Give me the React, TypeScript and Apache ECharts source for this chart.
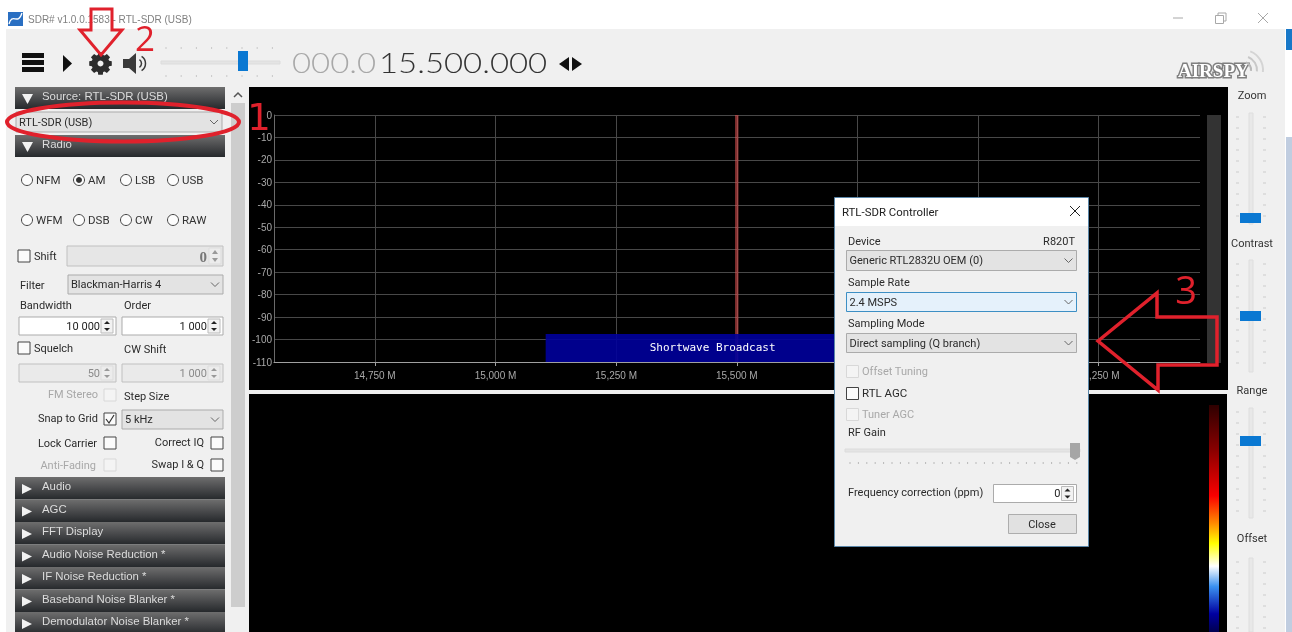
import React, { useEffect, useRef } from "react";
import * as echarts from "echarts";

const yTicks = [0, -10, -20, -30, -40, -50, -60, -70, -80, -90, -100, -110];
const xTicks = [14750, 15000, 15250, 15500, 15750, 16000, 16250];
const xVisibleLabels = [14750, 15000, 15250, 15500, 16250];
const xRange = [14541, 16460];
const tunedBand = [15496.5, 15503.5];
const bandPlanRange = [15104, 15796];
const bandPlanLevel = [-110, -97.5];
const bandPlanName = "Shortwave Broadcast";
const sourcePanels = ["Audio", "AGC", "FFT Display", "Audio Noise Reduction *", "IF Noise Reduction *", "Baseband Noise Blanker *", "Demodulator Noise Blanker *"];
const radioRow1 = ["NFM", "AM", "LSB", "USB"];
const radioRow2 = ["WFM", "DSB", "CW", "RAW"];
const sideSliders = ["Zoom", "Contrast", "Range", "Offset"];

const FONT = "Roboto, 'Liberation Sans', Arial, sans-serif";
const ARIAL = "'Liberation Sans', Arial, sans-serif";
const RED = "#e0212c";
const BLUE = "#0a78d2";
const APP = "#f0f0f0";

function buildGraphics() {
  const g: any[] = [];
  let Z = -10;
  const rect = (x: number, y: number, w: number, h: number, fill: any, stroke?: string, lw = 1) =>
    g.push({ type: "rect", silent: true, z: Z, shape: { x, y, width: w, height: h }, style: { fill, stroke: stroke || null, lineWidth: stroke ? lw : 0 } });
  const text = (x: number, y: number, s: string, o: any = {}) =>
    g.push({
      type: "text", silent: true, z: Z + 1, x, y, scaleX: o.scaleX || 1,
      style: {
        text: s, fill: o.color || "#2b2b2b", font: `${o.weight || "normal"} ${o.size || 11}px ${o.font || FONT}`,
        textAlign: o.align || "left", textVerticalAlign: "middle", textBaseline: "middle",
        stroke: o.stroke || null, lineWidth: o.lw || 0,
      },
    });
  const poly = (pts: number[][], fill: any, stroke?: string, lw = 1) =>
    g.push({ type: "polygon", silent: true, z: Z + 1, shape: { points: pts }, style: { fill: fill || "none", stroke: stroke || null, lineWidth: stroke ? lw : 0, lineJoin: "miter" } });
  const line = (x1: number, y1: number, x2: number, y2: number, stroke: string, lw = 1) =>
    g.push({ type: "line", silent: true, z: Z + 1, shape: { x1, y1, x2, y2 }, style: { stroke, lineWidth: lw } });
  const circle = (cx: number, cy: number, r: number, fill: any, stroke?: string, lw = 1) =>
    g.push({ type: "circle", silent: true, z: Z + 1, shape: { cx, cy, r }, style: { fill, stroke: stroke || null, lineWidth: stroke ? lw : 0 } });
  const arc = (cx: number, cy: number, r: number, a: number, b: number, stroke: string, lw: number) =>
    g.push({ type: "arc", silent: true, z: Z + 1, shape: { cx, cy, r, startAngle: a, endAngle: b, clockwise: true }, style: { stroke, lineWidth: lw, fill: "none" } });
  const chevron = (x: number, y: number, c = "#666") =>
    g.push({ type: "polyline", silent: true, z: Z + 1, shape: { points: [[x - 4, y - 2], [x, y + 2], [x + 4, y - 2]] }, style: { stroke: c, lineWidth: 1, fill: "none" } });
  const combo = (x: number, y: number, w: number, h: number, s: string, fill = "#e3e3e3", border = "#ababab") => {
    rect(x, y, w, h, fill, border);
    text(x + 3, y + h / 2, s);
    chevron(x + w - 8, y + h / 2);
  };
  const check = (x: number, y: number, disabled = false, checked = false) => {
    rect(x, y, 12, 12, disabled ? "#f4f4f4" : "#fbfbfb", disabled ? "#d8d8d8" : "#444");
    if (checked) g.push({ type: "polyline", silent: true, z: Z + 1, shape: { points: [[x + 2, y + 6], [x + 5, y + 10], [x + 10, y + 2]] }, style: { stroke: "#333", lineWidth: 1.2, fill: "none" } });
  };
  const spinner = (x: number, y: number, h: number, disabled = false) => {
    const c = disabled ? "#999" : "#222";
    rect(x, y + 1, 12, h - 2, disabled ? "#ececec" : "#f2f2f2", disabled ? "#ddd" : "#bbb");
    poly([[x + 3, y + h / 2 - 2], [x + 6, y + 3], [x + 9, y + h / 2 - 2]], c);
    poly([[x + 3, y + h / 2 + 2], [x + 6, y + h - 3], [x + 9, y + h / 2 + 2]], c);
  };
  const numeric = (x: number, y: number, w: number, h: number, s: string, disabled = false) => {
    rect(x, y, w, h, disabled ? "#eaeaea" : "#ffffff", disabled ? "#c0c0c0" : "#ababab");
    text(x + w - 16, y + h / 2, s, { align: "right", color: disabled ? "#8a8a8a" : "#222" });
    spinner(x + w - 15, y + 1, h - 2, disabled);
  };
  const headerFill = { type: "linear", x: 0, y: 0, x2: 0, y2: 1, colorStops: [{ offset: 0, color: "#6e6e6e" }, { offset: 0.5, color: "#4a4b4d" }, { offset: 1, color: "#26292c" }] };
  const header = (y: number, h: number, s: string, open: boolean) => {
    rect(15, y, 210, h, headerFill);
    if (open) poly([[22, y + 7], [33, y + 7], [27.5, y + 17]], "#f2f2f2");
    else poly([[22, y + 7], [22, y + 17], [32, y + 12]], "#f2f2f2");
    text(42, y + 9, s, { color: "#dcdcdc", size: 11.4, font: ARIAL });
  };
  const radio = (cx: number, cy: number, s: string, on: boolean) => {
    circle(cx, cy, 5.5, "#fcfcfc", "#444");
    if (on) circle(cx, cy, 3, "#333");
    text(cx + 9, cy, s, { color: "#333", size: 11.5 });
  };
  const vSlider = (cx: number, y1: number, y2: number, thumbY: number) => {
    rect(cx - 2, y1, 4, y2 - y1, "#e8e8e8", "#dedede");
    for (let y = y1 + 4; y < y2; y += 11) {
      line(cx - 15, y, cx - 12, y, "#cccccc");
      line(cx + 12, y, cx + 15, y, "#cccccc");
    }
    rect(cx - 11, thumbY, 21, 10, BLUE);
  };

  // ---- background layer (under the spectrum grid)
  rect(0, 0, 1292, 632, "#ffffff");
  rect(6, 29, 1279, 603, APP);
  rect(1286, 29, 6, 21, "#1878c8");
  rect(1286, 137, 6, 495, "#c0cde0");
  rect(249, 87, 979, 303, "#000000");
  rect(249, 394, 978, 238, "#000000");
  rect(1207, 115, 14, 248, "#333333");

  // ---- foreground layer
  Z = 20;
  // title bar
  rect(8, 12, 15, 14, "#2a6fc2");
  g.push({ type: "bezierCurve", silent: true, z: Z + 1, shape: { x1: 9, y1: 24, x2: 22, y2: 13, cpx1: 12, cpy1: 12, cpx2: 18, cpy2: 26 }, style: { stroke: "#ffffff", lineWidth: 1.3, fill: "none" } });
  text(28, 19, "SDR# v1.0.0.1583 - RTL-SDR (USB)", { color: "#808080", size: 10, font: ARIAL });
  line(1173, 18, 1183, 18, "#a8a8a8");
  rect(1215.5, 15.5, 8, 8, "none", "#a8a8a8");
  g.push({ type: "polyline", silent: true, z: Z + 1, shape: { points: [[1218, 15], [1218, 13], [1226, 13], [1226, 21], [1224, 21]] }, style: { stroke: "#a8a8a8", lineWidth: 1, fill: "none" } });
  line(1258, 13, 1268, 23, "#a8a8a8");
  line(1268, 13, 1258, 23, "#a8a8a8");

  // toolbar
  rect(22, 53, 22, 5, "#111");
  rect(22, 60, 22, 5, "#111");
  rect(22, 67, 22, 5, "#111");
  poly([[63, 55], [63, 72], [72, 63.5]], "#111");
  const gear: number[][] = [];
  for (let i = 0; i < 8; i++) {
    const a = (i * Math.PI) / 4;
    for (const [da, r] of [[-0.3, 9], [-0.2, 11.5], [0.2, 11.5], [0.3, 9]] as number[][]) {
      gear.push([100.5 + r * Math.cos(a + da), 63.5 + r * Math.sin(a + da)]);
    }
  }
  poly(gear, "#2c2c2c");
  circle(100.5, 63.5, 3, APP);
  poly([[123, 59], [129, 59], [136, 53], [136, 74], [129, 68], [123, 68]], "#3a3a3a");
  arc(137, 63.5, 4.5, -1, 1, "#3a3a3a", 1.5);
  arc(137, 63.5, 8.5, -1, 1, "#3a3a3a", 1.5);
  rect(161, 61, 119, 3, "#e4e4e4", "#dcdcdc");
  for (let x = 166; x < 280; x += 15.2) {
    line(x, 47, x, 49, "#c8c8c8");
    line(x, 75, x, 77, "#c8c8c8");
  }
  rect(238, 51, 10, 20, BLUE);
  text(292, 62, "000.0", { size: 27, scaleX: 1.22, color: "#a8a8a8", font: "Lato, 'Open Sans', sans-serif", weight: 300 });
  text(379, 62, "15.500.000", { size: 27, scaleX: 1.22, color: "#333", font: "Lato, 'Open Sans', sans-serif", weight: 300 });
  poly([[569, 57], [569, 71], [559, 64]], "#111");
  poly([[572, 57], [572, 71], [582, 64]], "#111");

  // airspy logo
  text(1178, 70, "AIRSPY", { size: 19, weight: "bold", font: "'Liberation Serif', serif", color: "#ffffff", stroke: "#808080", lw: 3 });
  arc(1243, 70, 8, -1.2, 0.1, "#b8b8b8", 2);
  arc(1243, 70, 14, -1.2, 0.1, "#c8c8c8", 2);
  arc(1243, 70, 20, -1.2, 0.1, "#d4d4d4", 2);

  // left panel
  header(87, 22, "Source: RTL-SDR (USB)", true);
  combo(16, 112, 206, 20, "RTL-SDR (USB)");
  header(135, 22, "Radio", true);
  rect(231, 87, 14, 520, "#cdcdcd");
  rect(231, 87, 14, 16, APP);
  g.push({ type: "polyline", silent: true, z: Z + 1, shape: { points: [[234, 97], [238, 93], [242, 97]] }, style: { stroke: "#555", lineWidth: 1.5, fill: "none" } });

  const radioX = [27, 79, 126, 173];
  radioRow1.forEach((s, i) => radio(radioX[i], 180, s, s === "AM"));
  radioRow2.forEach((s, i) => radio(radioX[i], 220, s, false));

  check(18, 250);
  text(34, 256, "Shift");
  rect(67, 246, 156, 20, "#e6e6e6", "#c0c0c0");
  text(207, 257, "0", { align: "right", size: 15, weight: "bold", font: "'Liberation Serif', serif", color: "#777" });
  spinner(209, 247, 18, true);
  text(20, 285, "Filter");
  combo(68, 275, 155, 19, "Blackman-Harris 4");
  text(20, 305, "Bandwidth");
  text(124, 305, "Order");
  numeric(19, 317, 97, 18, "10 000");
  numeric(122, 317, 101, 18, "1 000");
  check(18, 342);
  text(34, 348, "Squelch");
  text(124, 349, "CW Shift");
  numeric(19, 364, 97, 18, "50", true);
  numeric(122, 364, 101, 18, "1 000", true);
  text(98, 394, "FM Stereo", { align: "right", color: "#a8a8a8" });
  check(104, 389, true);
  text(124, 396, "Step Size");
  text(98, 418, "Snap to Grid", { align: "right" });
  check(104, 413, false, true);
  combo(122, 410, 101, 19, "5 kHz");
  text(97, 443, "Lock Carrier", { align: "right" });
  check(104, 437);
  text(204, 442, "Correct IQ", { align: "right" });
  check(211, 437);
  text(96, 465, "Anti-Fading", { align: "right", color: "#a8a8a8" });
  check(104, 459, true);
  text(204, 464, "Swap I & Q", { align: "right" });
  check(211, 459);
  sourcePanels.forEach((s, i) => header(477 + i * 22.5, 22.5, s, false));

  // right sliders
  const sliderLabelY = [95, 243, 390, 538];
  sideSliders.forEach((s, i) => text(1252, sliderLabelY[i], s, { align: "center", color: "#333" }));
  vSlider(1251, 113, 224, 213);
  vSlider(1251, 260, 372, 311);
  vSlider(1251, 408, 518, 436);
  vSlider(1251, 558, 632, 700);

  // waterfall colour bar
  rect(1209, 405, 10, 227, {
    type: "linear", x: 0, y: 0, x2: 0, y2: 1,
    colorStops: [
      { offset: 0, color: "#2e0000" }, { offset: 0.2, color: "#8a0000" }, { offset: 0.4, color: "#fa0000" },
      { offset: 0.52, color: "#ff8a00" }, { offset: 0.61, color: "#ffff00" }, { offset: 0.71, color: "#ffffff" },
      { offset: 0.8, color: "#3a90f0" }, { offset: 0.92, color: "#0000a0" }, { offset: 1, color: "#000050" },
    ],
  });

  // dialog
  Z = 30;
  rect(834.5, 197.5, 254, 349, APP, "#5a86a8");
  rect(835, 198, 253, 28, "#ffffff");
  text(842, 211.5, "RTL-SDR Controller", { size: 11.4, color: "#222" });
  line(1070, 206, 1080, 216, "#222");
  line(1080, 206, 1070, 216, "#222");
  text(848, 241, "Device");
  text(1075, 241, "R820T", { align: "right" });
  combo(846.5, 250.5, 230, 20, "Generic RTL2832U OEM (0)");
  text(848, 282, "Sample Rate");
  combo(846.5, 292.5, 230, 19, "2.4 MSPS", "#e5f1fb", "#3d8fc4");
  text(848, 323, "Sampling Mode");
  combo(846.5, 333.5, 230, 19, "Direct sampling (Q branch)");
  check(846.5, 365.5, true);
  text(862, 371, "Offset Tuning", { color: "#a8a8a8" });
  check(846.5, 387.5);
  text(862, 393, "RTL AGC", { size: 11.5 });
  check(846.5, 408.5, true);
  text(862, 414, "Tuner AGC", { color: "#a8a8a8" });
  text(848, 432, "RF Gain");
  rect(845, 449, 235, 3, "#e4e4e4", "#dcdcdc");
  for (let x = 850; x < 1078; x += 8.4) line(x, 462, x, 464, "#b8b8b8");
  poly([[1070, 443], [1080, 443], [1080, 457], [1075, 460], [1070, 457]], "#a6a6a6");
  text(848, 492, "Frequency correction (ppm)");
  numeric(993.5, 484.5, 83, 18, "0");
  rect(1008.5, 514.5, 68, 19, "#e1e1e1", "#adadad");
  text(1042, 524, "Close", { align: "center" });

  // red annotations
  Z = 40;
  g.push({ type: "ellipse", silent: true, z: Z, shape: { cx: 123, cy: 122, rx: 116, ry: 19.5 }, style: { fill: "none", stroke: RED, lineWidth: 4 } });
  poly([[91, 9], [112, 9], [112, 30], [122, 30], [101, 55], [80, 30], [91, 30]], null, RED, 3);
  poly([[1098, 341], [1157, 293], [1157, 317], [1217, 317], [1217, 365], [1158, 365], [1158, 390]], null, RED, 3.5);
  text(259, 117, "1", { size: 37, color: RED, align: "center", font: "'DejaVu Sans', sans-serif" });
  text(145, 37, "2", { size: 35, color: RED, align: "center", font: "'Open Sans', sans-serif" });
  text(1186, 289, "3", { size: 38, color: RED, align: "center", font: "'Open Sans', sans-serif" });
  return g;
}

export default function App() {
  const ref = useRef<HTMLDivElement>(null);
  useEffect(() => {
    const chart = echarts.init(ref.current!, undefined, { renderer: "svg" });
    chart.setOption({
      animation: false,
      grid: { left: 274, top: 115, width: 926, height: 247, containLabel: false },
      xAxis: {
        type: "value", min: xRange[0], max: xRange[1],
        axisLine: { onZero: false, lineStyle: { color: "#a0a0a0", width: 1 } },
        axisTick: { show: true, length: 4, customValues: xTicks, lineStyle: { color: "#a0a0a0" } },
        axisLabel: {
          customValues: xVisibleLabels, color: "#a8a8a8", fontSize: 10, fontFamily: ARIAL, margin: 8,
          formatter: (v: number) => `${Math.floor(v / 1000)},${String(v % 1000).padStart(3, "0")} M`,
        },
        splitLine: { show: true, lineStyle: { color: "#484848", width: 1 } },
      },
      yAxis: {
        type: "value", min: yTicks[yTicks.length - 1], max: yTicks[0], interval: 10,
        axisLine: { show: true, lineStyle: { color: "#6a6a6a" } },
        axisTick: { show: false },
        axisLabel: { color: "#a8a8a8", fontSize: 10, fontFamily: ARIAL, margin: 2 },
        splitLine: { show: true, lineStyle: { color: "#484848", width: 1 } },
      },
      series: [
        {
          type: "line", data: [], silent: true, z: 3,
          markArea: {
            silent: true,
            itemStyle: { color: "rgba(220,80,80,0.6)" },
            data: [[{ xAxis: tunedBand[0], yAxis: bandPlanLevel[0] }, { xAxis: tunedBand[1], yAxis: 0 }]],
          },
        },
        {
          type: "line", data: [], silent: true, z: 4,
          markArea: {
            silent: true,
            itemStyle: { color: "rgba(0,0,155,0.9)" },
            label: { show: true, position: "inside", color: "#ffffff", fontSize: 11, fontFamily: "'DejaVu Sans Mono', monospace" },
            data: [[
              { name: bandPlanName, xAxis: bandPlanRange[0], yAxis: bandPlanLevel[0] },
              { xAxis: bandPlanRange[1], yAxis: bandPlanLevel[1] },
            ]],
          },
        },
      ],
      graphic: { elements: buildGraphics() },
    });
    return () => chart.dispose();
  }, []);
  return <div ref={ref} style={{ position: "fixed", left: 0, top: 0, width: 1292, height: 632, overflow: "hidden", filter: "blur(0.4px)" }} />;
}
